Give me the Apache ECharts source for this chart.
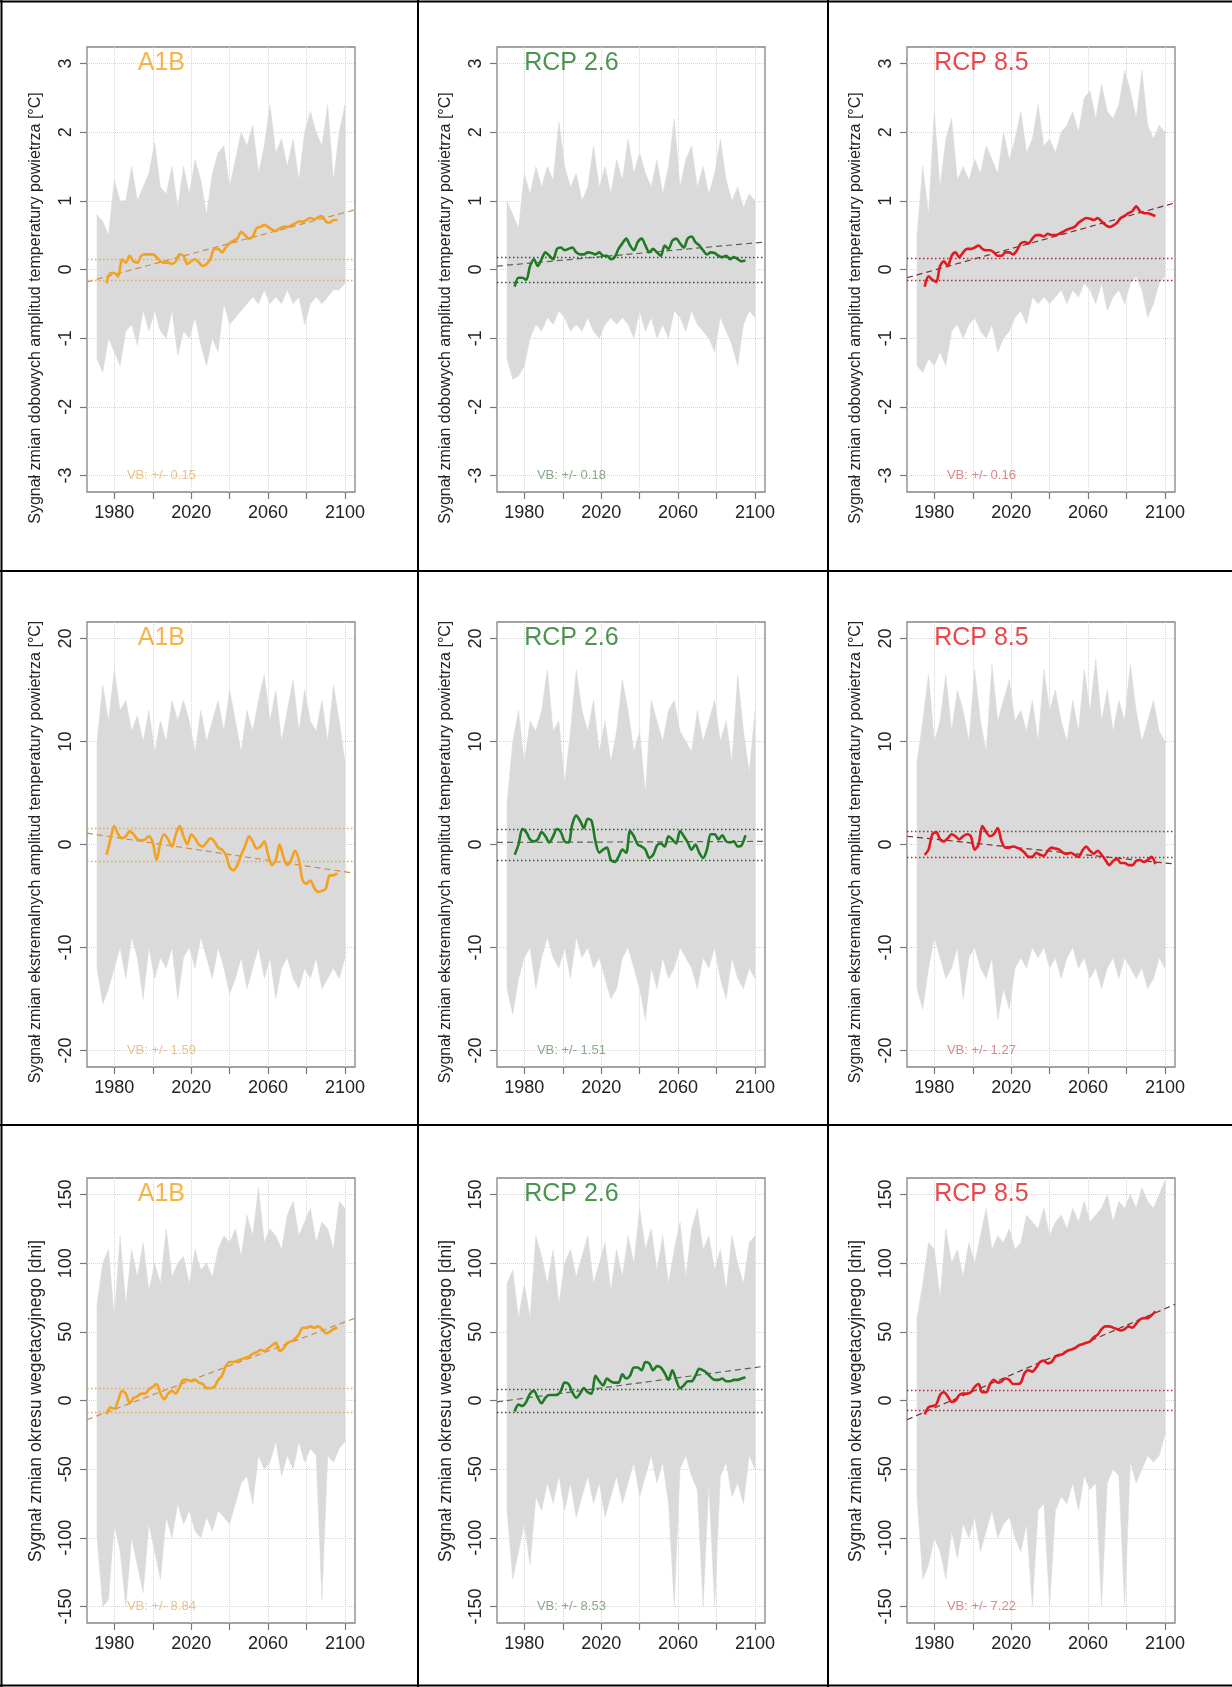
<!DOCTYPE html>
<html>
<head>
<meta charset="utf-8">
<script src="https://cdn.jsdelivr.net/npm/echarts@6/dist/echarts.min.js"></script>
<style>
html, body { margin: 0; padding: 0; background: #fff; }
#chart { width: 1232px; height: 1687px; }
</style>
</head>
<body>
<div id="chart"></div>
<script>
// lata
function range(a, b, step) {
    var out = [];
    for (var v = a; v <= b; v += step) out.push(v);
    return out;
}
var envYears = range(1971, 2100, 3);      // obwiednia zespołu modeli
var evenYears = range(1976, 2096, 2);     // linia wygładzona A1B
var oddYears = range(1975, 2095, 2);      // linia wygładzona RCP
var xTicks = [1980, 2000, 2020, 2040, 2060, 2080, 2100];
var xLabels = [1980, 2020, 2060, 2100];

// dobowe amplitudy
var dobA1bUpper = [0.8,0.7,0.5,1.3,1.0,1.0,1.5,1.0,1.2,1.4, 1.85,1.2,1.1,1.5,0.9,1.5,1.1,1.6,1.3,0.8, 1.4,1.7,1.8,1.2,1.6,2.0,1.8,2.1,1.4,1.8, 2.4,1.7,1.9,1.5,1.9,1.3,2.0,2.3,2.0,1.8, 2.4,1.3,2.0,2.4];
var dobA1bLower = [-1.3,-1.5,-1.0,-1.2,-1.4,-0.9,-0.8,-1.1,-0.6,-0.9, -0.6,-0.9,-1.0,-0.6,-1.25,-0.9,-1.0,-0.7,-1.1,-1.4, -1.0,-1.2,-0.5,-0.8,-0.7,-0.6,-0.5,-0.4,-0.5,-0.3, -0.5,-0.4,-0.5,-0.3,-0.5,-0.4,-0.8,-0.5,-0.4,-0.5, -0.4,-0.3,-0.3,-0.2];
var dobA1bSmooth = [-0.2,-0.05,-0.05,-0.1,0.15,0.1,0.2,0.12,0.1,0.2, 0.22,0.22,0.22,0.18,0.12,0.1,0.1,0.08,0.12,0.22, 0.2,0.08,0.12,0.15,0.1,0.05,0.08,0.15,0.3,0.3, 0.25,0.32,0.38,0.42,0.45,0.55,0.5,0.45,0.48,0.6, 0.62,0.65,0.62,0.58,0.56,0.6,0.62,0.62,0.64,0.67, 0.7,0.7,0.72,0.75,0.73,0.76,0.78,0.7,0.68,0.72, 0.72];

var dobRcp26Upper = [1.0,0.8,0.6,1.4,1.1,1.5,1.2,1.5,1.3,2.15, 1.5,1.2,1.4,1.0,1.2,1.8,1.2,1.5,1.1,1.6, 1.3,1.9,1.4,1.7,1.4,1.2,1.6,1.1,1.5,2.2, 1.2,1.6,1.8,1.2,1.5,1.1,1.4,1.9,1.3,1.0, 1.2,0.9,1.1,1.0];
var dobRcp26Lower = [-1.3,-1.6,-1.55,-1.4,-1.0,-0.8,-0.9,-0.7,-0.8,-0.6, -0.7,-0.9,-0.8,-0.9,-0.7,-0.9,-1.0,-0.8,-0.7,-0.8, -0.7,-0.8,-1.0,-0.6,-0.9,-0.7,-1.0,-0.8,-1.0,-0.6, -0.7,-0.9,-0.6,-0.8,-0.9,-1.0,-1.2,-0.7,-0.9,-1.1, -1.4,-0.8,-0.6,-0.7];
var dobRcp26Smooth = [-0.25,-0.12,-0.12,-0.15,0.05,0.15,0.05,0.15,0.25,0.2, 0.15,0.3,0.32,0.28,0.3,0.32,0.25,0.22,0.22,0.25, 0.24,0.22,0.25,0.2,0.2,0.15,0.18,0.3,0.38,0.45, 0.35,0.28,0.4,0.45,0.35,0.25,0.3,0.25,0.2,0.35, 0.3,0.42,0.45,0.38,0.32,0.45,0.48,0.4,0.35,0.28, 0.22,0.25,0.24,0.2,0.18,0.2,0.15,0.18,0.15,0.12, 0.13];

var dobRcp85Upper = [0.5,1.5,0.8,2.3,1.2,1.9,2.2,1.3,1.5,1.3, 1.6,1.4,1.8,1.6,1.4,2.0,1.6,1.9,2.3,1.7, 1.9,2.4,1.8,1.9,1.7,2.0,2.1,2.3,2.0,2.5, 2.6,2.2,2.7,2.3,2.2,2.4,2.9,2.6,2.2,2.9, 2.1,1.9,2.1,2.0];
var dobRcp85Lower = [-1.4,-1.5,-1.3,-1.4,-1.2,-1.4,-0.9,-0.8,-1.0,-0.8, -0.7,-0.9,-1.0,-0.8,-1.2,-1.0,-0.9,-0.7,-0.6,-0.8, -0.4,-0.5,-0.4,-0.5,-0.4,-0.3,-0.5,-0.3,-0.4,-0.2, -0.3,-0.5,-0.2,-0.6,-0.4,-0.3,-0.5,-0.2,-0.1,-0.3, -0.7,-0.5,-0.2,-0.1];
var dobRcp85Smooth = [-0.25,-0.1,-0.15,-0.18,0.05,0.12,0.05,0.2,0.25,0.18, 0.25,0.3,0.3,0.32,0.35,0.3,0.28,0.28,0.25,0.2, 0.2,0.25,0.25,0.22,0.28,0.38,0.4,0.38,0.45,0.5, 0.5,0.48,0.52,0.5,0.5,0.52,0.55,0.58,0.6,0.62, 0.68,0.72,0.75,0.74,0.72,0.75,0.7,0.65,0.62,0.64, 0.68,0.75,0.78,0.82,0.85,0.92,0.85,0.82,0.82,0.8, 0.78];

// ekstremalne amplitudy
var ekstrA1bUpper = [10,15.5,12,17,13,14,11,12.5,10,13, 9,12,10,14,12,14,12,9,13,10, 12,14,11,15,12,9,13,11,14,16.5, 12,15,10,13,16,11,15,12,11,14, 10,15.5,12,8];
var ekstrA1bLower = [-12,-15.5,-14,-12,-10,-13,-9,-11,-15,-10, -13,-11,-12,-10,-15,-11,-10,-12,-9,-11, -13,-10,-12,-14.5,-13,-11,-14,-12,-10,-13, -11,-15,-12,-11,-13,-14,-12,-13,-11,-14, -13,-12,-13,-11];
var ekstrA1bSmooth = [-1.0,0.5,1.8,1.0,0.6,0.8,1.3,1.0,0.5,0.4, 0.5,0.8,0.2,-1.5,0.2,1.0,0.5,-0.2,1.0,1.8, 0.8,0.0,1.0,0.6,0.0,-0.2,0.2,0.6,0.3,-0.3, -0.5,-1.0,-2.2,-2.5,-2.0,-1.0,-0.2,0.8,0.3,-0.4, -0.2,0.3,-1.0,-2.0,-1.5,0.0,-1.2,-2.0,-1.5,-0.6, -1.5,-3.5,-3.8,-3.5,-4.2,-4.6,-4.5,-4.3,-3.0,-3.0, -2.8];

var ekstrRcp26Upper = [4,10,13,8,12,11,13,17,11,12, 6,11,17,13,11,14,9,12,8,11, 16,13,9,11,5,14,12,10,13,14, 11,10,9,13,10,12,14,10,12,8, 16.5,11,7,13];
var ekstrRcp26Lower = [-14,-16.5,-13,-11,-10,-14,-11,-9,-11,-12, -10,-13,-9,-11,-10,-12,-11,-13,-15,-14, -11,-10,-12,-14,-17,-12,-14,-11,-13,-12, -10,-11,-12,-14,-11,-12,-10,-13,-15,-11, -13,-14,-12,-13];
var ekstrRcp26Smooth = [-1.0,0.0,1.5,1.2,0.5,0.3,0.5,1.2,0.8,0.2, 0.8,1.5,1.2,0.3,0.2,2.0,2.8,2.3,1.6,2.5, 2.3,0.3,-0.8,-0.5,-0.3,-1.5,-1.7,-1.2,-0.5,-0.8, 1.3,0.8,0.0,-0.2,-0.5,-1.3,-1.0,-0.1,0.1,-0.2, 0.8,0.5,0.1,1.3,0.8,0.2,-0.5,0.0,-0.8,-1.3, -0.5,1.0,1.0,0.5,0.9,0.3,0.2,0.3,-0.2,-0.1, 0.9];

var ekstrRcp85Upper = [8,12,16.5,10,12,16.5,11,15,13,10, 17,12,9,17.5,12,14,16,12,13,11, 14,10,17,13,15,12,10,14,11,17, 13,18,12,15,11,14,12,17.5,13,10, 12,14,11,10];
var ekstrRcp85Lower = [-14,-16,-12,-9,-11,-13,-12,-10,-15,-11, -10,-12,-13,-11,-17,-14,-16,-12,-11,-12, -10,-11,-10,-12,-11,-13,-11,-10,-12,-11, -13,-12,-14,-12,-11,-13,-11,-12,-13,-12, -14,-13,-11,-12];
var ekstrRcp85Smooth = [-1.0,-0.5,1.0,1.2,0.5,0.3,0.6,1.0,0.8,0.5, 0.8,1.0,0.8,-0.5,0.0,1.8,1.2,0.8,1.0,1.6, 0.3,-0.3,-0.3,-0.2,-0.3,-0.5,-0.8,-1.2,-1.2,-0.8, -1.0,-1.1,-0.6,-0.3,-0.4,-0.5,-0.8,-0.9,-0.8,-1.0, -1.2,-0.6,-0.2,-0.6,-0.9,-0.6,-1.0,-1.5,-2.0,-1.6, -1.4,-1.8,-1.8,-2.0,-2.0,-1.6,-1.5,-1.7,-1.5,-1.2, -1.9];

// okres wegetacyjny
var wegA1bUpper = [70,100,110,60,120,70,110,90,115,80, 100,85,125,90,100,105,85,110,95,100, 90,110,120,115,125,105,135,120,155,115, 125,120,110,135,145,120,130,140,115,130, 125,110,145,140];
var wegA1bLower = [-100,-150,-145,-90,-110,-150,-100,-120,-140,-90, -110,-130,-85,-100,-75,-90,-80,-95,-100,-85, -95,-80,-85,-90,-75,-60,-55,-75,-40,-50, -45,-30,-55,-40,-50,-30,-45,-35,-40,-145, -40,-45,-35,-30];
var wegA1bSmooth = [-10,-5,-6,0,7,5,-2,2,3,5, 5,8,10,12,5,1,5,7,5,10, 15,15,14,15,13,12,9,9,10,15, 18,25,28,28,29,30,31,32,34,35, 37,36,38,40,42,36,38,42,43,45, 48,53,53,54,53,54,52,49,50,52, 53];

var wegRcp26Upper = [85,95,60,85,60,120,105,85,110,70, 100,110,90,105,120,85,100,115,80,110, 90,120,100,140,110,125,95,120,85,110, 130,90,125,140,110,120,95,110,80,120, 100,85,115,120];
var wegRcp26Lower = [-80,-130,-110,-90,-120,-70,-80,-60,-75,-55, -80,-60,-85,-70,-55,-75,-60,-85,-70,-55, -75,-60,-45,-70,-55,-40,-60,-45,-75,-150, -50,-40,-55,-65,-150,-60,-150,-55,-45,-70, -60,-75,-40,-50];
var wegRcp26Smooth = [-8,-3,-4,-1,5,7,2,-2,2,4, 4,4,7,13,12,6,2,5,9,6, 5,18,14,11,16,14,13,13,19,16, 18,24,24,22,28,27,22,25,24,20, 15,22,15,9,11,14,14,18,23,22, 20,17,15,15,16,14,14,15,15,16, 17];

var wegRcp85Upper = [60,85,115,110,75,125,100,110,90,115, 100,120,140,110,120,115,125,110,115,135, 130,125,140,120,130,135,125,140,130,145, 130,135,140,150,130,145,140,150,140,155, 145,140,150,160];
var wegRcp85Lower = [-70,-130,-120,-100,-110,-130,-95,-115,-90,-100, -85,-110,-95,-80,-100,-90,-85,-100,-110,-90, -150,-80,-75,-150,-80,-70,-75,-60,-80,-55, -65,-60,-150,-60,-50,-55,-150,-45,-60,-50, -40,-45,-40,-25];
var wegRcp85Smooth = [-10,-5,-4,-3,4,6,3,-1,0,4, 5,5,6,10,12,6,6,12,15,13, 14,16,15,12,12,13,20,22,21,24, 28,29,27,28,32,33,34,36,37,38, 40,41,42,43,46,48,52,54,54,53, 52,51,52,54,53,56,59,60,60,62, 65];

// trend liniowy: wartości na lewej i prawej krawędzi wykresu
var trendStart = [[-0.18, 0.05, -0.12], [1.1, 0.2, 0.8], [-14, -1, -14]];
var trendEnd   = [[0.87, 0.40, 0.97], [-2.8, 0.3, -1.9], [60, 25, 70]];
var vbValues   = [[0.15, 0.18, 0.16], [1.59, 1.51, 1.27], [8.84, 8.53, 7.22]];

var rowAxes = [
    {ext: 3.24, ticks: [-3,-2,-1,0,1,2,3], name: 'Sygnał zmian dobowych amplitud temperatury powietrza [°C]', nameSize: 16, nameY: 308},
    {ext: 21.6, ticks: [-20,-10,0,10,20], name: 'Sygnał zmian ekstremalnych amplitud temperatury powietrza [°C]', nameSize: 16, nameY: 852},
    {ext: 162, ticks: [-150,-100,-50,0,50,100,150], name: 'Sygnał zmian okresu wegetacyjnego [dni]', nameSize: 17.5, nameY: 1401}
];
var scenarios = [
    {name: 'A1B', color: '#F4A11F', trend: '#D08C45', vbLine: '#F0A63A', vbText: '#E3B46A', years: evenYears},
    {name: 'RCP 2.6', color: '#1F7A24', trend: '#4F6A4F', vbLine: '#2C5A2C', vbText: '#6C946C', years: oddYears},
    {name: 'RCP 8.5', color: '#E2191E', trend: '#733030', vbLine: '#C42033', vbText: '#CF6B6B', years: oddYears}
];
var panelData = [
    [[dobA1bUpper, dobA1bLower, dobA1bSmooth], [dobRcp26Upper, dobRcp26Lower, dobRcp26Smooth], [dobRcp85Upper, dobRcp85Lower, dobRcp85Smooth]],
    [[ekstrA1bUpper, ekstrA1bLower, ekstrA1bSmooth], [ekstrRcp26Upper, ekstrRcp26Lower, ekstrRcp26Smooth], [ekstrRcp85Upper, ekstrRcp85Lower, ekstrRcp85Smooth]],
    [[wegA1bUpper, wegA1bLower, wegA1bSmooth], [wegRcp26Upper, wegRcp26Lower, wegRcp26Smooth], [wegRcp85Upper, wegRcp85Lower, wegRcp85Smooth]]
];

var X_MIN = 1965.8, X_MAX = 2105.2;
var gridLeft = [87, 497, 907];
var gridTop = [47, 622, 1178];
var FONT = '"Liberation Sans", Arial, sans-serif';

function pairs(xs, ys) {
    return ys.map(function (v, i) { return [xs[i], v]; });
}

// wielokąt obwiedni, liczony przez skale osi
function bandRenderer(years, upper, lower) {
    return function (params, api) {
        if (params.dataIndex !== 0) return;
        var pts = [];
        for (var k = 0; k < years.length; k++) pts.push(api.coord([years[k], upper[k]]));
        for (var k2 = years.length - 1; k2 >= 0; k2--) pts.push(api.coord([years[k2], lower[k2]]));
        return {type: 'polygon', shape: {points: pts}, style: {fill: '#dadada', stroke: '#dadada', lineWidth: 0.5}};
    };
}

var grids = [], xAxes = [], yAxes = [], series = [], graphics = [];

for (var r = 0; r < 3; r++) {
    for (var c = 0; c < 3; c++) {
        var i = r * 3 + c;
        var sc = scenarios[c];
        var ax = rowAxes[r];
        var d = panelData[r][c];
        var upper = d[0], lower = d[1], smooth = d[2];
        var vb = vbValues[r][c];

        grids.push({
            left: gridLeft[c], top: gridTop[r], width: 268, height: 445,
            show: true, borderColor: '#858585', borderWidth: 1.3, backgroundColor: 'transparent'
        });
        xAxes.push({
            gridIndex: i, type: 'value', min: X_MIN, max: X_MAX,
            axisLine: {show: false, onZero: false},
            axisTick: {show: true, length: 7, customValues: xTicks, lineStyle: {color: '#777', width: 1.2}},
            axisLabel: {customValues: xLabels, fontSize: 18, color: '#222', margin: 12, fontFamily: FONT,
                formatter: function (v) { return String(v); }},
            splitLine: {show: true, lineStyle: {color: '#d4d4d4', type: 'dotted', width: 1}}
        });
        yAxes.push({
            gridIndex: i, type: 'value', min: -ax.ext, max: ax.ext,
            axisLine: {show: false, onZero: false},
            axisTick: {show: true, length: 7, customValues: ax.ticks, lineStyle: {color: '#777', width: 1.2}},
            axisLabel: {customValues: ax.ticks, rotate: 90, fontSize: 18, color: '#222', margin: 12, fontFamily: FONT},
            splitLine: {show: true, lineStyle: {color: '#d4d4d4', type: 'dotted', width: 1}}
        });

        graphics.push({
            type: 'text', silent: true, x: gridLeft[c] - 51, y: ax.nameY, rotation: Math.PI / 2,
            style: {text: ax.name, fontSize: ax.nameSize, fontFamily: FONT, fill: '#222',
                align: 'center', verticalAlign: 'middle'}
        });

        // obwiednia zespołu modeli
        series.push({
            type: 'custom', xAxisIndex: i, yAxisIndex: i, silent: true, z: 1,
            data: envYears.map(function (y, k) { return [y, lower[k], upper[k]]; }),
            encode: {x: 0, y: [1, 2]},
            renderItem: bandRenderer(envYears, upper, lower)
        });
        // trend + pasy VB
        series.push({
            type: 'line', xAxisIndex: i, yAxisIndex: i, silent: true,
            data: [[X_MIN, trendStart[r][c]], [X_MAX, trendEnd[r][c]]],
            symbol: 'none', lineStyle: {type: [6, 4], width: 1.2, color: sc.trend}, z: 3,
            markLine: {
                silent: true, symbol: 'none', label: {show: false},
                lineStyle: {type: [1.5, 2.5], width: 1.3, color: sc.vbLine},
                data: [{yAxis: vb}, {yAxis: -vb}]
            }
        });
        // wygładzony sygnał
        series.push({
            type: 'line', xAxisIndex: i, yAxisIndex: i, silent: true,
            data: pairs(sc.years, smooth), smooth: 0.3,
            symbol: 'none', lineStyle: {width: 2.6, color: sc.color}, z: 4
        });
        // tytuł scenariusza i tekst VB
        series.push({
            type: 'scatter', xAxisIndex: i, yAxisIndex: i, silent: true,
            data: [[2004.5, ax.ticks[ax.ticks.length - 1]]], symbolSize: 0, z: 5,
            label: {show: true, position: 'inside', formatter: sc.name, fontSize: 25, color: sc.color, fontFamily: FONT}
        });
        series.push({
            type: 'scatter', xAxisIndex: i, yAxisIndex: i, silent: true,
            data: [[2004.5, ax.ticks[0]]], symbolSize: 0, z: 5,
            label: {show: true, position: 'inside', formatter: 'VB: +/- ' + vb.toFixed(2), fontSize: 13, color: sc.vbText, fontFamily: FONT}
        });
    }
}

// ramki komórek
[
    [1.5, 0, 1.5, 1687], [418, 0, 418, 1687], [828, 0, 828, 1687],
    [0, 1.5, 1232, 1.5], [0, 571, 1232, 571], [0, 1125, 1232, 1125], [0, 1685.5, 1232, 1685.5]
].forEach(function (l) {
    graphics.push({
        type: 'line', silent: true,
        shape: {x1: l[0], y1: l[1], x2: l[2], y2: l[3]},
        style: {stroke: '#000', lineWidth: 2}
    });
});

var chart = echarts.init(document.getElementById('chart'), null, {renderer: 'canvas'});
chart.setOption({
    animation: false,
    backgroundColor: '#fff',
    textStyle: {fontFamily: FONT},
    grid: grids,
    xAxis: xAxes,
    yAxis: yAxes,
    series: series,
    graphic: graphics
});
</script>
</body>
</html>
